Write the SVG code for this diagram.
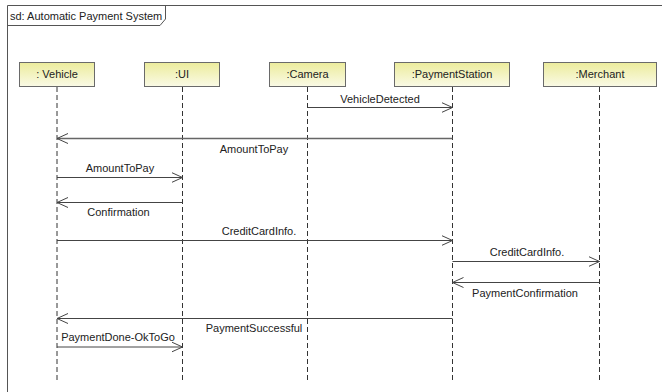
<svg xmlns="http://www.w3.org/2000/svg" width="662" height="392" viewBox="0 0 662 392">
  <defs>
    <linearGradient id="headFill" x1="0" y1="0" x2="0" y2="1">
      <stop offset="0" stop-color="#ecec9c"/>
      <stop offset="1" stop-color="#fafae6"/>
    </linearGradient>
    <marker id="open" viewBox="0 0 12 12" refX="11" refY="6" markerWidth="12" markerHeight="12" markerUnits="userSpaceOnUse" orient="auto">
      <path d="M0,1 L11,6 L0,11" fill="none" stroke="#444" stroke-width="1"/>
    </marker>
    <style>
      .frame { fill: none; stroke: #555; stroke-width: 1; }
      .head { fill: url(#headFill); stroke: #6a6a6a; stroke-width: 1; }
      .headText { font-family: "Liberation Sans", Arial, sans-serif; font-size: 11px; fill: #222; text-anchor: middle; }
      .life { stroke: #333; stroke-width: 1; stroke-dasharray: 5 3; fill: none; }
      .msg { stroke: #444; stroke-width: 1; fill: none; marker-end: url(#open); }
      .label { font-family: "Liberation Sans", Arial, sans-serif; font-size: 11px; fill: #222; text-anchor: middle; }
      .title { font-family: "Liberation Sans", Arial, sans-serif; font-size: 11px; fill: #222; }
    </style>
  </defs>
  <rect width="662" height="392" fill="#fff"/>

  <!-- sequence frame with its name tab -->
  <g id="frame">
    <path class="frame" d="M7.5,392 L7.5,5.5 L662,5.5"/>
    <path class="frame" d="M7.5,25.5 L160,25.5 L165.5,19 L165.5,5.5"/>
    <text class="title" x="10" y="20">sd: Automatic Payment System</text>
  </g>

  <!-- lifelines -->
  <g id="vehicle">
    <rect class="head" x="19.5" y="62.5" width="75" height="24"/>
    <text class="headText" x="57" y="78">: Vehicle</text>
    <line class="life" x1="57" y1="87" x2="57" y2="382"/>
  </g>
  <g id="ui">
    <rect class="head" x="144.5" y="62.5" width="75" height="24"/>
    <text class="headText" x="182" y="78">:UI</text>
    <line class="life" x1="182.5" y1="87" x2="182.5" y2="382"/>
  </g>
  <g id="camera">
    <rect class="head" x="269.5" y="62.5" width="76" height="24"/>
    <text class="headText" x="307.5" y="78">:Camera</text>
    <line class="life" x1="307.5" y1="87" x2="307.5" y2="382"/>
  </g>
  <g id="paymentStation">
    <rect class="head" x="394.5" y="62.5" width="115" height="24"/>
    <text class="headText" x="452" y="78">:PaymentStation</text>
    <line class="life" x1="452.5" y1="87" x2="452.5" y2="382"/>
  </g>
  <g id="merchant">
    <rect class="head" x="543.5" y="62.5" width="113" height="24"/>
    <text class="headText" x="600" y="78">:Merchant</text>
    <line class="life" x1="599.5" y1="87" x2="599.5" y2="382"/>
  </g>

  <!-- messages -->
  <g id="connectors">
    <line class="msg" x1="307.5" y1="107.5" x2="452.5" y2="107.5"/>
    <text class="label" x="380" y="103">VehicleDetected</text>

    <line class="msg" x1="452.5" y1="138.5" x2="57" y2="138.5" style="stroke:#666;stroke-width:1.5"/>
    <text class="label" x="254" y="153">AmountToPay</text>

    <line class="msg" x1="57" y1="177.5" x2="182.5" y2="177.5"/>
    <text class="label" x="120" y="172">AmountToPay</text>

    <line class="msg" x1="182.5" y1="202.5" x2="57" y2="202.5"/>
    <text class="label" x="118.5" y="216">Confirmation</text>

    <line class="msg" x1="57" y1="240.5" x2="452.5" y2="240.5"/>
    <text class="label" x="259" y="235">CreditCardInfo.</text>

    <line class="msg" x1="452.5" y1="261.5" x2="599.5" y2="261.5"/>
    <text class="label" x="527" y="256">CreditCardInfo.</text>

    <line class="msg" x1="599.5" y1="282.5" x2="452.5" y2="282.5"/>
    <text class="label" x="525" y="297">PaymentConfirmation</text>

    <line class="msg" x1="452.5" y1="318.5" x2="57" y2="318.5"/>
    <text class="label" x="254" y="332">PaymentSuccessful</text>

    <line class="msg" x1="57" y1="347" x2="182.5" y2="347"/>
    <text class="label" x="118" y="341">PaymentDone-OkToGo</text>
  </g>
</svg>
